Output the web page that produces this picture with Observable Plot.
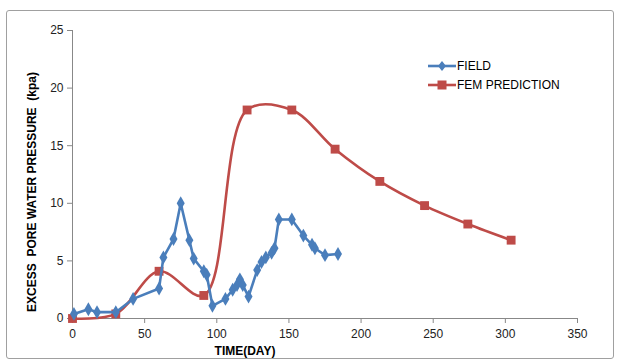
<!DOCTYPE html>
<html>
<head>
<meta charset="utf-8">
<script src="https://cdn.jsdelivr.net/npm/d3@7"></script>
<script src="https://cdn.jsdelivr.net/npm/@observablehq/plot@0.6"></script>
<style>
  html, body { margin: 0; padding: 0; background: #fff; }
  #wrap { position: relative; width: 619px; height: 362px; font-family: "Liberation Sans", Arial, sans-serif; }
  #border { position: absolute; left: 6px; top: 10px; width: 606px; height: 347px; border: 1px solid #a0a0a0; border-radius: 3px; pointer-events: none; }
  #legend { position: absolute; left: 428px; top: 56px; font-size: 12px; color: #000; }
  #legend .row { display: flex; align-items: center; height: 19px; }
  #legend svg { margin-right: 1px; }
</style>
</head>
<body>
<div id="wrap">
  <div id="chart"></div>
  <div id="border"></div>
  <div id="legend"></div>
</div>
<script>
const fieldDay = [1, 11, 17, 30, 42, 60, 63, 70, 75, 81, 84, 91, 93, 97, 106, 111, 114, 116, 118, 122, 128, 131, 134, 138, 140, 143, 152, 160, 166, 168, 175, 184];
const fieldKpa = [0.4, 0.8, 0.55, 0.55, 1.7, 2.6, 5.3, 6.9, 10.0, 6.8, 5.2, 4.1, 3.8, 1.1, 1.7, 2.5, 2.9, 3.4, 2.9, 1.9, 4.2, 4.9, 5.3, 5.7, 6.1, 8.6, 8.6, 7.2, 6.4, 6.1, 5.5, 5.6];
const femDay = [0, 30, 60, 91, 121, 152, 182, 213, 244, 274, 304];
const femKpa = [0, 0.4, 4.1, 2.0, 18.1, 18.1, 14.7, 11.9, 9.8, 8.2, 6.8];
const xTicks = [0, 50, 100, 150, 200, 250, 300, 350];
const yTicks = [0, 5, 10, 15, 20, 25];
const seriesNames = ["FIELD", "FEM PREDICTION"];
const blue = "#4A7EBB", red = "#BE4B48";

const field = fieldDay.map((d, i) => ({day: d, kpa: fieldKpa[i]}));
const fem = femDay.map((d, i) => ({day: d, kpa: femKpa[i]}));

const chart = Plot.plot({
  width: 619,
  height: 362,
  marginLeft: 72,
  marginRight: 42,
  marginTop: 30,
  marginBottom: 44,
  style: {fontFamily: "Liberation Sans, Arial, sans-serif", fontSize: "12px", color: "#222", background: "transparent"},
  x: {domain: [0, 350], ticks: xTicks},
  y: {domain: [0, 25], ticks: yTicks},
  marks: [
    Plot.ruleY([0], {stroke: "#888", strokeWidth: 1}),
    Plot.ruleX([0], {stroke: "#888", strokeWidth: 1}),
    Plot.axisX({ticks: xTicks, tickSize: 5, tickPadding: 6, stroke: "#888", fontSize: 12, fill: "#222", label: null}),
    Plot.axisY({ticks: yTicks, tickSize: 5, tickPadding: 4, stroke: "#888", fontSize: 12, fill: "#222", label: null}),
    Plot.line(fem, {x: "day", y: "kpa", stroke: red, strokeWidth: 2.6, curve: "catmull-rom"}),
    Plot.dot(fem, {x: "day", y: "kpa", symbol: "square", fill: red, r: 5}),
    Plot.line(field, {x: "day", y: "kpa", stroke: blue, strokeWidth: 2.6}),
    Plot.dot(field, {x: "day", y: "kpa", symbol: "diamond", fill: blue, r: 4.2})
  ]
});
document.getElementById("chart").appendChild(chart);

const svg = d3.select(chart);
svg.append("text")
  .attr("x", 245).attr("y", 355)
  .attr("text-anchor", "middle")
  .attr("font-weight", "bold").attr("font-size", 12).attr("fill", "#000")
  .text("TIME(DAY)");
svg.append("text")
  .attr("transform", "translate(36,192) rotate(-90)")
  .attr("text-anchor", "middle")
  .attr("font-weight", "bold").attr("font-size", 12).attr("fill", "#000")
  .text("EXCESS  PORE WATER PRESSURE  (kpa)");

const legend = document.getElementById("legend");
seriesNames.forEach((name, i) => {
  const row = document.createElement("div");
  row.className = "row";
  const col = i === 0 ? blue : red;
  const sym = i === 0
    ? `<path d="M14,4 L18,9 L14,14 L10,9 Z" fill="${col}"/>`
    : `<rect x="9.5" y="4.5" width="9" height="9" fill="${col}"/>`;
  row.innerHTML = `<svg width="28" height="18"><line x1="0" y1="9" x2="28" y2="9" stroke="${col}" stroke-width="2.6"/>${sym}</svg><span>${name}</span>`;
  legend.appendChild(row);
});
</script>
</body>
</html>
